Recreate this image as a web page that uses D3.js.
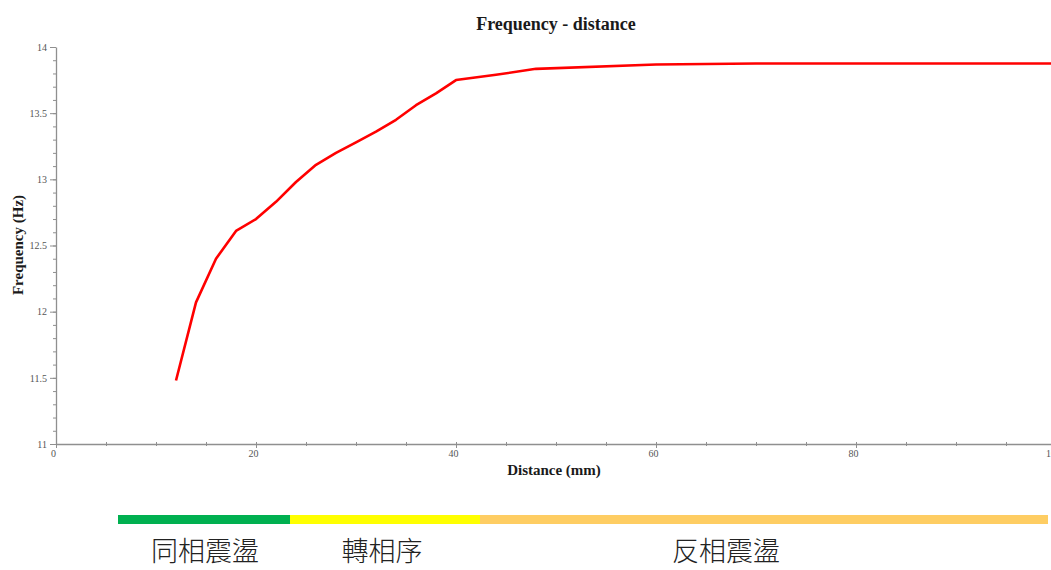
<!DOCTYPE html>
<html>
<head>
<meta charset="utf-8">
<script src="https://cdn.jsdelivr.net/npm/d3@7"></script>
<style>
  html, body { margin: 0; padding: 0; background: #fff; }
  svg { display: block; }
</style>
</head>
<body>
<svg id="chart" width="1051" height="570"></svg>
<script>
// Measured frequency against coil distance
const distance = [12, 14, 16, 18, 20, 22, 24, 26, 28, 30, 32, 34, 36, 38, 40, 44, 48, 60, 70, 80, 90, 100];
const frequency = [11.48, 12.07, 12.40, 12.61, 12.70, 12.83, 12.98, 13.11, 13.20, 13.28, 13.36, 13.45, 13.56, 13.65, 13.75, 13.79, 13.835, 13.868, 13.875, 13.875, 13.875, 13.875];

const xMajorTicks = [0, 20, 40, 60, 80, 100];
const yMajorTicks = [11, 11.5, 12, 12.5, 13, 13.5, 14];

// Oscillation regimes along the distance axis
const bandNames = ["同相震盪", "轉相序", "反相震盪"];
const bandStart = [6.2, 23.4, 42.4];
const bandEnd = [23.4, 42.4, 99.2];
const bandColors = ["#00b050", "#ffff00", "#fecd63"];
const labelAt = [14.9, 32.6, 67.0];

const svg = d3.select("#chart");
const x = d3.scaleLinear().domain([0, 100]).range([56, 1056]);
const y = d3.scaleLinear().domain([11, 14]).range([444, 47]);

const serif = "'Liberation Serif', 'DejaVu Serif', serif";
const axisColor = "#8f8f8f";

// Minor ticks
svg.append("g")
  .attr("transform", `translate(${x(0)},0)`)
  .call(d3.axisLeft(y).tickValues(d3.range(110, 141).map(v => v / 10)).tickSize(3).tickFormat(""))
  .call(g => g.select(".domain").remove())
  .call(g => g.selectAll("line").attr("stroke", axisColor));
svg.append("g")
  .attr("transform", `translate(0,${y(11)})`)
  .call(d3.axisBottom(x).tickValues(d3.range(0, 101, 5)).tickSize(2).tickFormat(""))
  .call(g => g.select(".domain").remove())
  .call(g => g.selectAll("line").attr("stroke", axisColor).attr("y1", -2));

// Major axes
svg.append("g")
  .attr("transform", `translate(${x(0)},0)`)
  .call(d3.axisLeft(y).tickValues(yMajorTicks).tickSize(6).tickPadding(3).tickSizeOuter(0)
    .tickFormat(d => String(d)))
  .call(g => g.select(".domain").attr("stroke", axisColor).attr("stroke-width", 1.3))
  .call(g => g.selectAll("line").attr("stroke", axisColor))
  .call(g => g.selectAll("text").attr("fill", "#555").style("font-family", serif).style("font-size", "10px"));
svg.append("g")
  .attr("transform", `translate(0,${y(11)})`)
  .call(d3.axisBottom(x).tickValues(xMajorTicks).tickSize(4).tickPadding(2).tickSizeOuter(0)
    .tickFormat(d => String(d)))
  .call(g => g.select(".domain").attr("stroke", axisColor).attr("stroke-width", 1.3))
  .call(g => g.selectAll("line").attr("stroke", axisColor).attr("y1", -2))
  .call(g => g.selectAll("text").attr("fill", "#555").style("font-family", serif).style("font-size", "10px")
    .attr("dx", "-3"));

// Frequency curve
const pts = distance.map((d, i) => [d, frequency[i]]);
svg.append("path")
  .datum(pts)
  .attr("fill", "none")
  .attr("stroke", "#ff0000")
  .attr("stroke-width", 2.6)
  .attr("stroke-linejoin", "round")
  .attr("d", d3.line().x(d => x(d[0])).y(d => y(d[1])));

// Titles
svg.append("text")
  .attr("x", 556).attr("y", 30)
  .attr("text-anchor", "middle")
  .style("font-family", serif).style("font-size", "18px").style("font-weight", "bold")
  .attr("fill", "#1a1a1a")
  .text("Frequency - distance");
svg.append("text")
  .attr("x", 554).attr("y", 475)
  .attr("text-anchor", "middle")
  .style("font-family", serif).style("font-size", "15px").style("font-weight", "bold")
  .attr("fill", "#1a1a1a")
  .text("Distance (mm)");
svg.append("text")
  .attr("transform", "translate(23,245) rotate(-90)")
  .attr("text-anchor", "middle")
  .style("font-family", serif).style("font-size", "15px").style("font-weight", "bold")
  .attr("fill", "#1a1a1a")
  .text("Frequency (Hz)");

// Regime bands and their names
svg.selectAll("rect.band")
  .data(bandNames)
  .join("rect")
  .attr("class", "band")
  .attr("x", (d, i) => x(bandStart[i]))
  .attr("width", (d, i) => x(bandEnd[i]) - x(bandStart[i]))
  .attr("y", 515)
  .attr("height", 9)
  .attr("fill", (d, i) => bandColors[i]);

svg.selectAll("text.band-label")
  .data(bandNames)
  .join("text")
  .attr("class", "band-label")
  .attr("x", (d, i) => x(labelAt[i]))
  .attr("y", 561)
  .attr("text-anchor", "middle")
  .style("font-family", "'Noto Sans CJK TC', 'Noto Sans CJK SC', sans-serif")
  .style("font-size", "27px")
  .style("font-weight", "300")
  .attr("fill", "#222")
  .text(d => d);
</script>
</body>
</html>
